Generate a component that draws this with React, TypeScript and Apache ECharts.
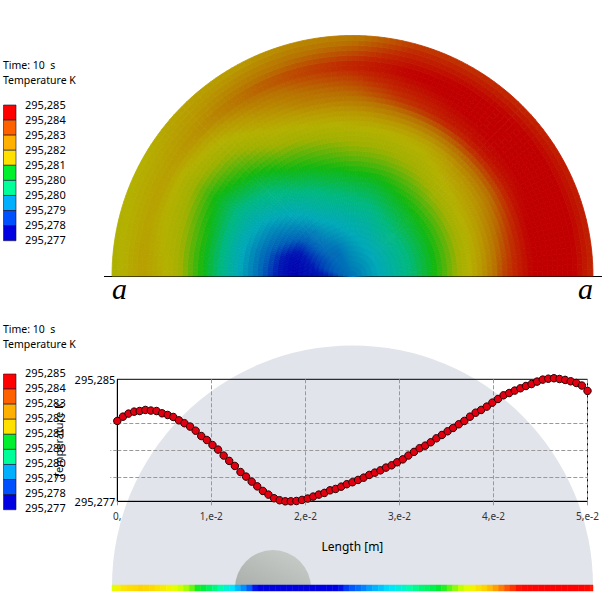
import React, { useEffect, useRef } from "react";
import * as echarts from "echarts";

const FONT = "'Noto Sans', sans-serif";

// Length along the a-a line, in mm
const lengthMm = [0,0.60,1.19,1.79,2.38,2.98,3.57,4.17,4.76,5.36,5.95,6.55,7.14,7.74,8.33,8.93,9.52,10.12,10.71,11.31,11.90,12.50,13.10,13.69,14.29,14.88,15.48,16.07,16.67,17.26,17.86,18.45,19.05,19.64,20.24,20.83,21.43,22.02,22.62,23.21,23.81,24.40,25.00,25.60,26.19,26.79,27.38,27.98,28.57,29.17,29.76,30.36,30.95,31.55,32.14,32.74,33.33,33.93,34.52,35.12,35.71,36.31,36.90,37.50,38.10,38.69,39.29,39.88,40.48,41.07,41.67,42.26,42.86,43.45,44.05,44.64,45.24,45.83,46.43,47.02,47.62,48.21,48.81,49.40,50.00];
// Temperature along the a-a line, in K
const temperatureK = [295.28227,295.28255,295.28275,295.28288,295.28292,295.28299,295.28295,295.28292,295.28277,295.28266,295.28253,295.28231,295.28212,295.28190,295.28163,295.28128,295.28102,295.28069,295.28039,295.28000,295.27965,295.27932,295.27892,295.27862,295.27829,295.27798,295.27768,295.27744,295.27720,295.27707,295.27700,295.27700,295.27702,295.27709,295.27718,295.27731,295.27744,295.27755,295.27772,295.27781,295.27796,295.27812,295.27825,295.27840,295.27855,295.27873,295.27888,295.27903,295.27921,295.27936,295.27956,295.27975,295.28000,295.28024,295.28048,295.28065,295.28087,295.28113,295.28135,295.28159,295.28181,295.28205,295.28227,295.28255,295.28281,295.28299,295.28321,295.28347,295.28371,295.28395,295.28410,295.28426,295.28441,295.28456,295.28469,295.28485,295.28498,295.28504,295.28507,295.28502,295.28496,295.28487,295.28476,295.28459,295.28424];

const yMin = 295.277;
const yMax = 295.285;
const yGridK = [295.27857, 295.28034, 295.28211];
const xTickLabels = ["0,", "1,e-2", "2,e-2", "3,e-2", "4,e-2", "5,e-2"];

// Temperature in the half disc: rows are radii, columns are angles
const ringMm = [0, 3.125, 6.25, 9.375, 12.5, 15.625, 18.75, 21.875, 25];
const rayDeg = [0, 15, 30, 45, 60, 75, 90, 105, 120, 135, 150, 165, 180];
const ring0 = [295.2783,295.2783,295.2783,295.2783,295.2783,295.2783,295.2783,295.2783,295.2783,295.2783,295.2783,295.2783,295.2783];
const ring1 = [295.2774,295.2778,295.2779,295.2781,295.2782,295.2785,295.27875,295.2789,295.279,295.27905,295.2791,295.27915,295.2791];
const ring2 = [295.277,295.2771,295.2777,295.2783,295.2789,295.2792,295.27945,295.2796,295.2799,295.2801,295.2801,295.2801,295.28015];
const ring3 = [295.27795,295.2781,295.2785,295.2791,295.2797,295.2802,295.28045,295.2806,295.2809,295.2811,295.2812,295.2813,295.28135];
const ring4 = [295.2793,295.2793,295.2795,295.2801,295.2809,295.2813,295.2816,295.2817,295.2819,295.2822,295.2824,295.2825,295.28265];
const ring5 = [295.281,295.281,295.2807,295.2813,295.282,295.2823,295.2825,295.2826,295.2827,295.2831,295.2833,295.2837,295.28395];
const ring6 = [295.2824,295.2822,295.2819,295.2822,295.2829,295.2834,295.2836,295.284,295.2843,295.2845,295.2845,295.2847,295.2847];
const ring7 = [295.2829,295.2828,295.2829,295.2832,295.2837,295.284,295.2843,295.2847,295.2849,295.285,295.285,295.285,295.28498];
const ring8 = [295.28227,295.2824,295.2825,295.2828,295.2829,295.2832,295.2834,295.284,295.2841,295.2842,295.2843,295.2843,295.2842];
const discField = [ring0, ring1, ring2, ring3, ring4, ring5, ring6, ring7, ring8];

const legendLabels = ["295,285","295,284","295,283","295,282","295,281","295,280","295,280","295,279","295,278","295,277"];
const legendColors = ["#ff0000","#ff6000","#ffb000","#ffe000","#00f030","#00ff99","#00b0ff","#0050ff","#0000e0"];

// colour scales: [mK above 295.277, colour]
const shadedStops: [number, number[]][] = [
  [0,[0,0,176]],[0.5,[0,24,180]],[1,[0,96,184]],[2,[0,168,184]],[3,[0,184,128]],[4,[16,184,16]],
  [5,[160,176,0]],[5.5,[180,176,0]],[6,[184,152,0]],[6.6,[184,112,0]],[7.2,[192,40,0]],[7.7,[192,0,0]],[8,[192,0,0]],
];
const brightStops: [number, number[]][] = [
  [0,[0,0,224]],[0.9,[0,0,230]],[1.2,[0,80,255]],[1.8,[0,170,255]],[2.3,[0,230,255]],[3,[0,255,170]],[4.2,[0,235,40]],
  [5,[190,255,0]],[5.4,[240,255,0]],[5.9,[255,220,0]],[6.4,[255,170,0]],[6.9,[255,96,0]],[7.3,[255,10,0]],[8,[255,0,0]],
];
function colorAt(stops: [number, number[]][], kelvin: number) {
  const t = Math.max(0, Math.min(8, (kelvin - yMin) * 1000));
  for (let i = 1; i < stops.length; i++) {
    if (t <= stops[i][0]) {
      const [a, ca] = stops[i - 1];
      const [b, cb] = stops[i];
      const f = (t - a) / (b - a);
      return `rgb(${ca.map((c, k) => Math.round(c + (cb[k] - c) * f)).join(",")})`;
    }
  }
  return "rgb(255,0,0)";
}

function renderDiscCell(_: any, api: any) {
  const i = api.value(2);
  const j = api.value(3);
  const NR = 6;
  const NA = 10;
  const children: any[] = [];
  const r0 = ringMm[i], r1 = ringMm[i + 1], a0 = rayDeg[j], a1 = rayDeg[j + 1];
  for (let u = 0; u < NR; u++) {
    for (let v = 0; v < NA; v++) {
      const fu = (u + 0.5) / NR, fv = (v + 0.5) / NA;
      const k =
        discField[i][j] * (1 - fu) * (1 - fv) + discField[i + 1][j] * fu * (1 - fv) +
        discField[i][j + 1] * (1 - fu) * fv + discField[i + 1][j + 1] * fu * fv;
      const ra = r0 + ((r1 - r0) * u) / NR, rb = r0 + ((r1 - r0) * (u + 1)) / NR;
      const aa = a0 + ((a1 - a0) * v) / NA, ab = a0 + ((a1 - a0) * (v + 1)) / NA;
      const fill = colorAt(shadedStops, k);
      children.push({
        type: "polygon",
        shape: { points: [api.coord([ra, aa]), api.coord([rb, aa]), api.coord([rb, ab]), api.coord([ra, ab])] },
        style: { fill, stroke: fill, lineWidth: 0.8 },
        silent: true,
      });
    }
  }
  return { type: "group", children };
}

function renderStripCell(_: any, api: any) {
  const p0 = api.coord([api.value(0), 1]);
  const p1 = api.coord([api.value(1), 0]);
  const fill = colorAt(brightStops, api.value(2));
  return {
    type: "rect",
    shape: { x: p0[0], y: p0[1], width: p1[0] - p0[0], height: p1[1] - p0[1] },
    style: { fill, stroke: fill, lineWidth: 0.5 },
    silent: true,
  };
}

function legendGraphics(titleY: number, labelY: number, blockY: number) {
  const els: any[] = [
    { type: "text", x: 3, y: titleY, style: { text: "Time: 10  s", font: `10.5px ${FONT}`, fill: "#000", verticalAlign: "middle" } },
    { type: "text", x: 3, y: titleY + 15, style: { text: "Temperature K", font: `10.5px ${FONT}`, fill: "#000", verticalAlign: "middle" } },
  ];
  legendColors.forEach((c, i) => {
    els.push({ type: "rect", shape: { x: 3.5, y: blockY + i * 15.08, width: 12.5, height: 15.08 }, style: { fill: c, stroke: "#101030", lineWidth: 0.6 } });
  });
  legendLabels.forEach((t, i) => {
    els.push({ type: "text", x: 25, y: labelY + i * 15.1, style: { text: t, font: `11px ${FONT}`, fill: "#000", verticalAlign: "middle" } });
  });
  return els;
}

export default function App() {
  const ref = useRef<HTMLDivElement>(null);
  useEffect(() => {
    document.body.style.margin = "0";
    const chart = echarts.init(ref.current!, undefined, { renderer: "svg" });
    const lengths = lengthMm.map((v) => v / 1000);
    const stripData = lengths.map((x, i) => [
      i === 0 ? 0 : (lengths[i - 1] + x) / 2,
      i === lengths.length - 1 ? 0.05 : (x + lengths[i + 1]) / 2,
      temperatureK[i],
    ]);
    const discData: number[][] = [];
    for (let i = 0; i < ringMm.length - 1; i++)
      for (let j = 0; j < rayDeg.length - 1; j++) discData.push([ringMm[i], rayDeg[j], i, j]);

    chart.setOption({
      animation: false,
      backgroundColor: "#fff",
      polar: { center: [352.5, 276], radius: 240.5 },
      angleAxis: { type: "value", min: 0, max: 360, startAngle: 180, clockwise: true, show: false },
      radiusAxis: { type: "value", min: 0, max: 25, show: false },
      grid: [
        { left: 117.3, top: 379.3, width: 471, height: 122, show: true, backgroundColor: "transparent", borderColor: "#000", borderWidth: 1 },
        { left: 112, top: 585, width: 481, height: 6, show: false },
      ],
      xAxis: [
        {
          type: "value", gridIndex: 0, min: 0, max: 0.05, interval: 0.01,
          name: "Length [m]", nameLocation: "middle", nameGap: 39,
          nameTextStyle: { fontFamily: FONT, fontSize: 12, color: "#000" },
          axisLine: { show: true, onZero: false, lineStyle: { color: "#000", width: 1 } },
          axisTick: { show: true, length: 6, lineStyle: { color: "#999", type: "dashed" } },
          axisLabel: { margin: 10, fontFamily: FONT, fontSize: 10, color: "#333", formatter: (v: number) => xTickLabels[Math.round(v / 0.01)], showMinLabel: true, showMaxLabel: true },
          splitLine: { show: true, lineStyle: { color: "#999", type: "dashed", width: 1 } },
        },
        { type: "value", gridIndex: 1, min: 0, max: 0.05, show: false },
      ],
      yAxis: [
        {
          type: "value", gridIndex: 0, min: yMin, max: yMax,
          name: "Temperature K", nameLocation: "middle", nameGap: 23, nameRotate: 90,
          nameTextStyle: { fontFamily: FONT, fontSize: 11, color: "#000" },
          axisLine: { show: true, lineStyle: { color: "#000", width: 1 } },
          axisTick: { show: true, length: 7, customValues: yGridK, lineStyle: { color: "#999", type: "dashed" } },
          axisLabel: { margin: 2, fontFamily: FONT, fontSize: 11, color: "#000", customValues: [yMin, yMax], formatter: (v: number) => v.toFixed(3).replace(".", ",") },
          splitLine: { show: true, lineStyle: { color: "#999", type: "dashed", width: 1 } },
        },
        { type: "value", gridIndex: 1, min: 0, max: 1, show: false },
      ],
      series: [
        { type: "custom", name: "Temperature field", coordinateSystem: "polar", data: discData, encode: { radius: 0, angle: 1 }, renderItem: renderDiscCell, silent: true, clip: false },
        { type: "custom", name: "Section colours", coordinateSystem: "cartesian2d", xAxisIndex: 1, yAxisIndex: 1, data: stripData, encode: { x: [0, 1] }, renderItem: renderStripCell, silent: true, clip: false },
        {
          type: "line", name: "Temperature K", xAxisIndex: 0, yAxisIndex: 0,
          data: lengths.map((x, i) => [x, temperatureK[i]]),
          symbol: "circle", symbolSize: 7.5, showSymbol: true, showAllSymbols: true, clip: false, silent: true,
          lineStyle: { color: "#400000", width: 1 },
          itemStyle: { color: "#e00012", borderColor: "#2a0000", borderWidth: 1 },
        },
      ],
      graphic: [
        { type: "sector", z: -2, shape: { cx: 352.5, cy: 586, r: 240.5, r0: 0, startAngle: Math.PI, endAngle: 2 * Math.PI }, style: { fill: "#e1e4ea" } },
        {
          type: "sector", z: -1, shape: { cx: 273, cy: 588, r: 38, r0: 0, startAngle: Math.PI, endAngle: 2 * Math.PI },
          style: { fill: new echarts.graphic.LinearGradient(0, 1, 1, 0, [{ offset: 0, color: "#a9aeaa" }, { offset: 1, color: "#ccd0cc" }]) },
        },
        { type: "line", shape: { x1: 104, y1: 276.5, x2: 602, y2: 276.5 }, style: { stroke: "#000", lineWidth: 1 } },
        { type: "text", x: 112, y: 288, style: { text: "a", font: `italic 30px 'Liberation Serif', serif`, fill: "#000", verticalAlign: "middle" } },
        { type: "text", x: 578, y: 288, style: { text: "a", font: `italic 30px 'Liberation Serif', serif`, fill: "#000", verticalAlign: "middle" } },
        ...legendGraphics(65, 104, 105),
        ...legendGraphics(329, 372, 374),
      ],
    });
    return () => chart.dispose();
  }, []);
  return <div ref={ref} style={{ position: "absolute", left: 0, top: 0, width: 602, height: 611 }} />;
}
